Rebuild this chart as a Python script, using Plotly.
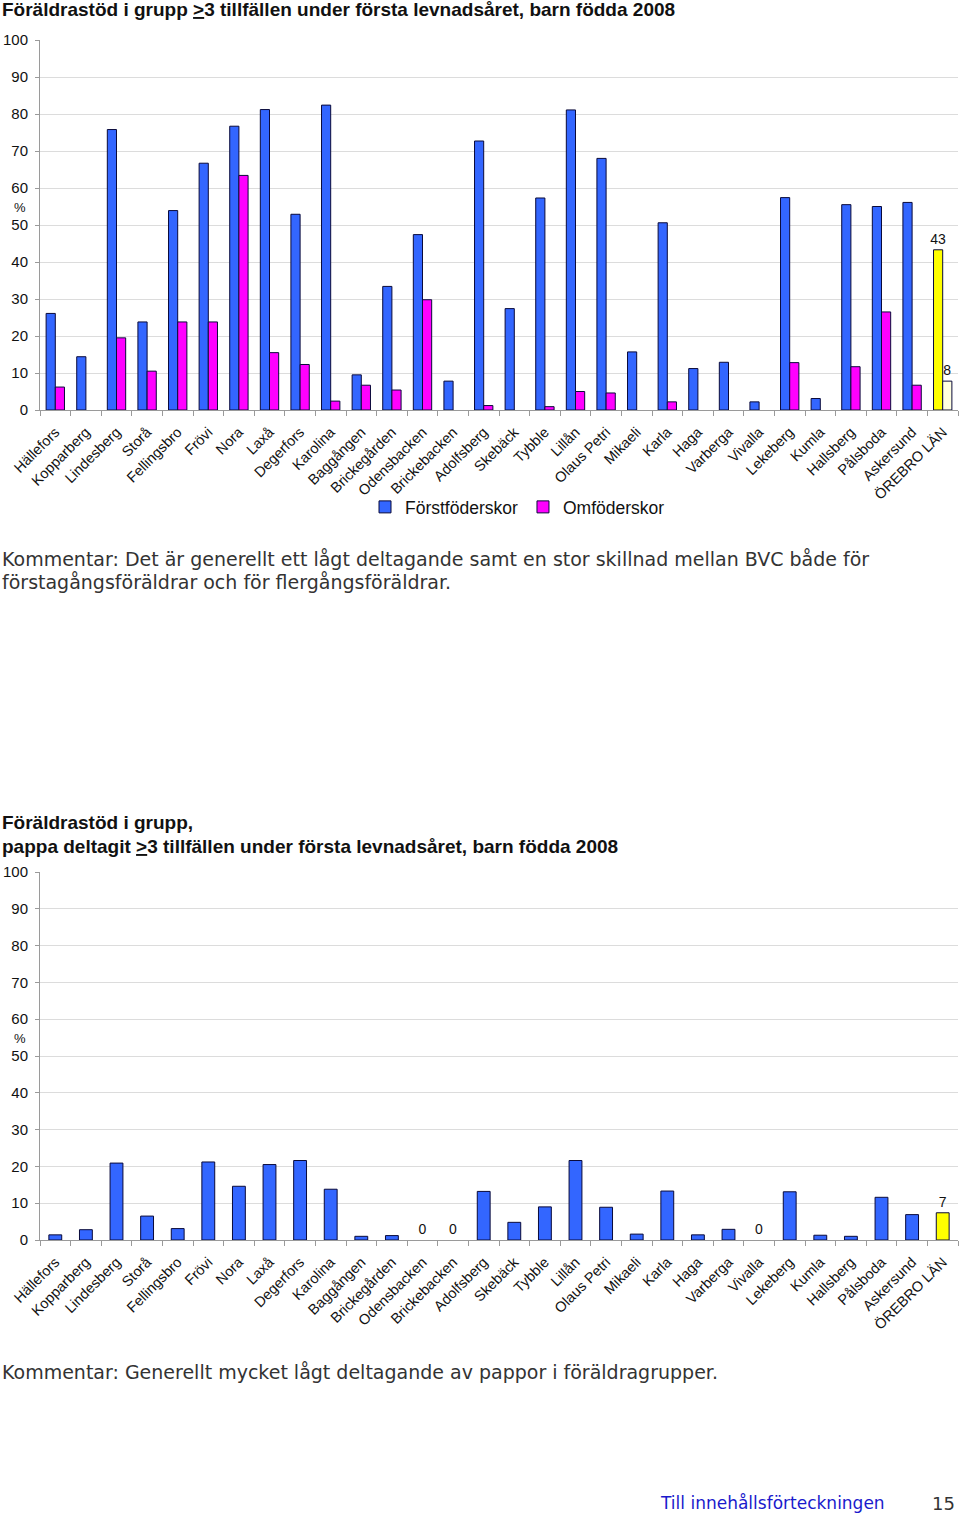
import plotly.graph_objects as go

W, H = 960, 1515

categories = ["Hällefors", "Kopparberg", "Lindesberg", "Storå", "Fellingsbro", "Frövi", "Nora",
              "Laxå", "Degerfors", "Karolina", "Baggången", "Brickegården", "Odensbacken",
              "Brickebacken", "Adolfsberg", "Skebäck", "Tybble", "Lillån", "Olaus Petri",
              "Mikaeli", "Karla", "Haga", "Varberga", "Vivalla", "Lekeberg", "Kumla",
              "Hallsberg", "Pålsboda", "Askersund", "ÖREBRO LÄN"]

forstfoderskor = [26.1, 14.4, 75.8, 23.8, 53.9, 66.7, 76.7, 81.2, 52.9, 82.4, 9.5, 33.4, 47.4,
                  7.8, 72.7, 27.4, 57.3, 81.1, 68.0, 15.7, 50.6, 11.2, 12.9, 2.2, 57.4, 3.1,
                  55.5, 55.0, 56.1, 43.3]
omfoderskor = [6.2, 0, 19.5, 10.5, 23.8, 23.8, 63.4, 15.5, 12.3, 2.4, 6.7, 5.4, 29.8,
               0, 1.2, 0, 0.9, 5.0, 4.6, 0, 2.2, 0, 0, 0, 12.8, 0,
               11.7, 26.5, 6.7, 7.8]
pappa = [1.4, 2.8, 20.9, 6.5, 3.1, 21.2, 14.6, 20.5, 21.6, 13.8, 1.0, 1.2, 0,
         0, 13.2, 4.8, 9.0, 21.6, 8.9, 1.6, 13.3, 1.4, 2.9, 0, 13.1, 1.3,
         1.0, 11.6, 6.9, 7.4]

y_ticks = [0, 10, 20, 30, 40, 50, 60, 70, 80, 90, 100]

TOTAL = "ÖREBRO LÄN"
BLUE, PINK, YELLOW, CREAM = "#3366FF", "#FF00FF", "#FFFF00", "#FFFFE0"
OUTLINE = "#0a0a3a"


def px_y(p):
    return 1 - p / H


def px_x(p):
    return p / W


def colors(base, special):
    return [special if c == TOTAL else base for c in categories]


def outline_widths(vals):
    return [0 if v == 0 else 1 for v in vals]


def labels_total(vals):
    return [f"{v:.0f}" if c == TOTAL else "" for c, v in zip(categories, vals)]


def labels_total_zero(vals):
    return [f"{v:.0f}" if (c == TOTAL or v == 0) else "" for c, v in zip(categories, vals)]


label_font = dict(family="Liberation Sans", size=14, color="#111")

fig = go.Figure()

fig.add_trace(go.Bar(
    x=categories, y=forstfoderskor, name="Förstföderskor",
    marker=dict(color=colors(BLUE, YELLOW),
                line=dict(color=OUTLINE, width=outline_widths(forstfoderskor))),
    text=labels_total(forstfoderskor), textposition="outside", constraintext="none",
    textfont=label_font, cliponaxis=False, xaxis="x", yaxis="y"))
fig.add_trace(go.Bar(
    x=categories, y=omfoderskor, name="Omföderskor",
    marker=dict(color=colors(PINK, CREAM),
                line=dict(color=OUTLINE, width=outline_widths(omfoderskor))),
    text=labels_total(omfoderskor), textposition="outside", constraintext="none",
    textfont=label_font, cliponaxis=False, xaxis="x", yaxis="y"))
fig.add_trace(go.Bar(
    x=categories, y=pappa, name="Pappa", showlegend=False, width=0.42,
    marker=dict(color=colors(BLUE, YELLOW),
                line=dict(color=OUTLINE, width=outline_widths(pappa))),
    text=labels_total_zero(pappa), textposition="outside", constraintext="none",
    textfont=label_font, cliponaxis=False, xaxis="x2", yaxis="y2"))

xdom = [px_x(40), px_x(958)]
xcommon = dict(type="category", tickangle=-45, showgrid=False, showline=True,
               linecolor="#9a9a9a", linewidth=1, ticks="outside", tickson="boundaries",
               ticklen=5, tickcolor="#9a9a9a", ticklabelstandoff=7,
               tickfont=dict(family="Liberation Sans", size=14.5, color="#111"),
               automargin=False, fixedrange=True)
ycommon = dict(range=[0, 100], tickvals=y_ticks, showgrid=True, gridcolor="#dcdcdc",
               gridwidth=1, showline=True, linecolor="#9a9a9a", linewidth=1,
               ticks="outside", ticklen=4, tickcolor="#9a9a9a", zeroline=False,
               tickfont=dict(family="Liberation Sans", size=15, color="#111"),
               automargin=False, ticklabelstandoff=4, fixedrange=True)

fig.update_layout(
    width=W, height=H, margin=dict(l=0, r=0, t=0, b=0),
    paper_bgcolor="white", plot_bgcolor="white",
    barmode="group", bargap=0.4, bargroupgap=0,
    xaxis=dict(domain=xdom, anchor="y", **xcommon),
    yaxis=dict(domain=[px_y(410), px_y(40)], anchor="x", **ycommon),
    xaxis2=dict(domain=xdom, anchor="y2", **xcommon),
    yaxis2=dict(domain=[px_y(1240), px_y(872)], anchor="x2", **ycommon),
    showlegend=True,
    legend=dict(orientation="h", x=px_x(365), y=px_y(507), xanchor="left", yanchor="middle",
                font=dict(family="Liberation Sans", size=17.5, color="#111"),
                bgcolor="rgba(0,0,0,0)", itemclick=False, itemdoubleclick=False),
)

ann = []


def text(s, x, y, size, family="Liberation Sans", color="#111", xanchor="left"):
    ann.append(dict(text=s, x=px_x(x), y=px_y(y), xref="paper", yref="paper",
                    xanchor=xanchor, yanchor="middle", showarrow=False,
                    font=dict(family=family, size=size, color=color)))


text("<b>Föräldrastöd i grupp <u>&gt;</u>3 tillfällen under första levnadsåret, barn födda 2008</b>",
     0, 9, 19)
text("%", 12, 207, 13)
text("Kommentar: Det är generellt ett lågt deltagande samt en stor skillnad mellan BVC både för",
     0, 559, 19, family="DejaVu Sans", color="#333")
text("förstagångsföräldrar och för flergångsföräldrar.", 0, 582, 19, family="DejaVu Sans",
     color="#333")
text("<b>Föräldrastöd i grupp,</b>", 0, 822, 19)
text("<b>pappa deltagit <u>&gt;</u>3 tillfällen under första levnadsåret, barn födda 2008</b>",
     0, 846, 19)
text("%", 12, 1038, 13)
text("Kommentar: Generellt mycket lågt deltagande av pappor i föräldragrupper.",
     0, 1372, 19, family="DejaVu Sans", color="#333")
text("Till innehållsförteckningen", 658, 1503, 17, family="DejaVu Sans", color="#1a1acc")
text("15", 957, 1503, 18, family="DejaVu Sans", color="#333", xanchor="right")

fig.update_layout(annotations=ann)

fig.write_html("out.html", config={"displayModeBar": False},
               post_script="document.body.style.margin='0';document.body.style.overflow='hidden';")
